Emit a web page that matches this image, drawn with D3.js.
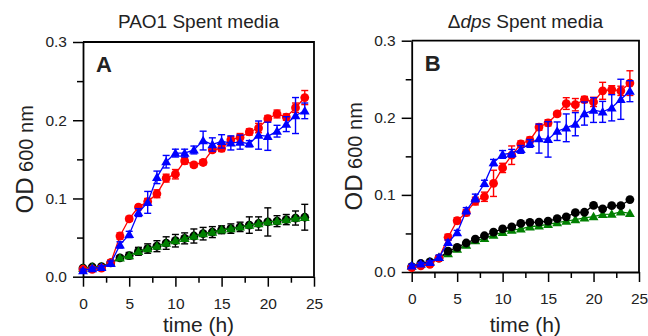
<!DOCTYPE html>
<html>
<head>
<meta charset="utf-8">
<script src="https://cdn.jsdelivr.net/npm/d3@7"></script>
<style>
  body { margin: 0; background: #fff; }
  svg text { font-family: "Liberation Sans", Arial, sans-serif; fill: #222; }
</style>
</head>
<body>
<svg id="chart" width="648" height="336"></svg>
<script>
// time points (h)
const hours = d3.range(0, 25);

const xTicks = [0, 5, 10, 15, 20, 25];
const yTicks = [0.0, 0.1, 0.2, 0.3];

// Panel A - PAO1 spent media
const redA = [0.0095, 0.0095, 0.011, 0.018, 0.052, 0.074, 0.089, 0.096, 0.106, 0.126, 0.131, 0.148, 0.143, 0.146, 0.162, 0.164, 0.175, 0.178, 0.185, 0.190, 0.202, 0.208, 0.204, 0.216, 0.229];
const redAErr = [0.002, 0.002, 0.002, 0.003, 0.004, 0.003, 0.003, 0.004, 0.005, 0.005, 0.006, 0.004, 0.003, 0.003, 0.003, 0.004, 0.004, 0.005, 0.004, 0.006, 0.004, 0.005, 0.004, 0.006, 0.009];
const blueA = [0.0077, 0.0105, 0.012, 0.017, 0.0406, 0.054, 0.082, 0.095, 0.127, 0.147, 0.158, 0.158, 0.162, 0.174, 0.169, 0.173, 0.171, 0.172, 0.170, 0.181, 0.1795, 0.186, 0.195, 0.206, 0.212];
const blueAErr = [0.002, 0.002, 0.002, 0.003, 0.004, 0.004, 0.005, 0.014, 0.008, 0.008, 0.005, 0.005, 0.005, 0.012, 0.0085, 0.0085, 0.009, 0.009, 0.004, 0.018, 0.018, 0.0075, 0.0095, 0.023, 0.01];
const blackA = [0.011, 0.0124, 0.013, 0.0176, 0.024, 0.027, 0.0325, 0.036, 0.039, 0.043, 0.046, 0.049, 0.052, 0.055, 0.057, 0.060, 0.0615, 0.0637, 0.066, 0.068, 0.070, 0.071, 0.073, 0.075, 0.076];
const blackAErr = [0.001, 0.002, 0.002, 0.003, 0.003, 0.004, 0.005, 0.006, 0.007, 0.008, 0.008, 0.007, 0.009, 0.008, 0.007, 0.005, 0.006, 0.006, 0.0105, 0.0085, 0.018, 0.007, 0.0065, 0.009, 0.0165];
const greenA = [0.011, 0.0124, 0.013, 0.0176, 0.024, 0.027, 0.0325, 0.036, 0.039, 0.043, 0.046, 0.049, 0.052, 0.055, 0.057, 0.060, 0.0615, 0.0637, 0.066, 0.068, 0.070, 0.071, 0.073, 0.075, 0.076];

// Panel B - dps spent media
const redB = [0.0056, 0.008, 0.010, 0.018, 0.045, 0.0665, 0.077, 0.092, 0.0976, 0.115, 0.135, 0.1515, 0.166, 0.171, 0.188, 0.1935, 0.205, 0.2185, 0.217, 0.2237, 0.2206, 0.235, 0.2366, 0.235, 0.245];
const redBErr = [0.002, 0.002, 0.002, 0.003, 0.004, 0.004, 0.004, 0.005, 0.006, 0.017, 0.006, 0.012, 0.004, 0.004, 0.004, 0.004, 0.003, 0.0076, 0.008, 0.004, 0.006, 0.011, 0.005, 0.006, 0.016];
const blueB = [0.008, 0.0104, 0.0125, 0.019, 0.0385, 0.051, 0.0795, 0.096, 0.115, 0.142, 0.1525, 0.154, 0.159, 0.1667, 0.173, 0.172, 0.1826, 0.187, 0.1917, 0.2055, 0.21, 0.2077, 0.213, 0.224, 0.2345];
const blueBErr = [0.002, 0.002, 0.002, 0.003, 0.003, 0.003, 0.004, 0.005, 0.004, 0.004, 0.005, 0.005, 0.005, 0.005, 0.0188, 0.023, 0.012, 0.018, 0.015, 0.015, 0.016, 0.0136, 0.017, 0.026, 0.0136];
const blackB = [0.007, 0.011, 0.013, 0.018, 0.027, 0.032, 0.0376, 0.0427, 0.047, 0.0518, 0.056, 0.0585, 0.063, 0.0644, 0.0648, 0.066, 0.0692, 0.0715, 0.077, 0.0775, 0.0865, 0.082, 0.086, 0.086, 0.094];
const greenB = [0.008, 0.0104, 0.0134, 0.019, 0.024, 0.0298, 0.035, 0.0406, 0.0436, 0.048, 0.0514, 0.0544, 0.056, 0.0587, 0.060, 0.0617, 0.064, 0.066, 0.068, 0.0703, 0.0717, 0.0747, 0.075, 0.078, 0.076];

const svg = d3.select('#chart');

// dibuja un panel completo
function drawPanel(p) {
  const x = d3.scaleLinear().domain([0, 25]).range([p.left, p.right]);
  const y = d3.scaleLinear().domain([0, 0.3]).range([p.bottom, p.top]);

  const g = svg.append('g');

  // minor ticks
  g.append('g')
    .attr('transform', 'translate(0,' + p.bottom + ')')
    .call(d3.axisBottom(x).tickValues(d3.range(2.5, 25, 5)).tickSize(6).tickSizeOuter(0).tickFormat(''))
    .call(a => a.select('.domain').remove());
  g.append('g')
    .attr('transform', 'translate(' + p.left + ',0)')
    .call(d3.axisLeft(y).tickValues([0.05, 0.15, 0.25]).tickSize(6).tickSizeOuter(0).tickFormat(''))
    .call(a => a.select('.domain').remove());

  // major axes
  const xa = g.append('g')
    .attr('transform', 'translate(0,' + p.bottom + ')')
    .call(d3.axisBottom(x).tickValues(xTicks).tickSize(10).tickSizeOuter(0).tickPadding(11));
  const ya = g.append('g')
    .attr('transform', 'translate(' + p.left + ',0)')
    .call(d3.axisLeft(y).tickValues(yTicks).tickSize(10).tickSizeOuter(0).tickPadding(6).tickFormat(d3.format('.1f')));
  [xa, ya].forEach(a => {
    a.selectAll('text').style('font-size', '15.5px').attr('fill', '#222');
    a.select('.domain').attr('stroke', '#000').attr('stroke-width', 1.8);
  });
  g.selectAll('.tick line').attr('stroke', '#000').attr('stroke-width', 1.5);

  // box
  g.append('path')
    .attr('d', 'M' + p.left + ',' + p.top + 'H' + p.right + 'V' + p.bottom)
    .attr('fill', 'none')
    .attr('stroke', '#000')
    .attr('stroke-width', 1.8);

  // series
  p.series.forEach(s => {
    const pts = hours.map((t, i) => ({ t: t, v: s.values[i], e: s.errors ? s.errors[i] : 0 }));

    if (s.errors) {
      const eb = g.append('g').attr('stroke', s.color).attr('stroke-width', 1.4);
      pts.forEach(d => {
        const y0 = y(d.v - d.e), y1 = y(d.v + d.e), cx = x(d.t);
        eb.append('line').attr('x1', cx).attr('x2', cx).attr('y1', y0).attr('y2', y1);
        eb.append('line').attr('x1', cx - 3.5).attr('x2', cx + 3.5).attr('y1', y0).attr('y2', y0);
        eb.append('line').attr('x1', cx - 3.5).attr('x2', cx + 3.5).attr('y1', y1).attr('y2', y1);
      });
    }

    g.append('path')
      .datum(pts)
      .attr('fill', 'none')
      .attr('stroke', s.color)
      .attr('stroke-width', 1.3)
      .attr('d', d3.line().x(d => x(d.t)).y(d => y(d.v)));

    if (s.shape === 'circle') {
      g.selectAll(null)
        .data(pts)
        .enter()
        .append('circle')
        .attr('cx', d => x(d.t))
        .attr('cy', d => y(d.v))
        .attr('r', 4.4)
        .attr('fill', s.color);
    } else {
      g.selectAll(null)
        .data(pts)
        .enter()
        .append('path')
        .attr('transform', d => 'translate(' + x(d.t) + ',' + (y(d.v) + 0.8) + ')')
        .attr('d', d3.symbol(d3.symbolTriangle, 42))
        .attr('fill', s.color);
    }
  });

  // titles
  const title = svg.append('text')
    .attr('x', (p.left + p.right) / 2)
    .attr('y', 28)
    .attr('text-anchor', 'middle')
    .style('font-size', '19px');
  p.title.forEach(t => title.append('tspan').style('font-style', t.italic ? 'italic' : 'normal').text(t.text));

  svg.append('text')
    .attr('x', p.left + 13)
    .attr('y', p.top + 30)
    .style('font-size', '22px')
    .style('font-weight', 'bold')
    .attr('fill', '#000')
    .text(p.letter);

  const yl = svg.append('text')
    .attr('transform', 'translate(' + (p.left - 50) + ',' + (p.top + p.bottom) / 2 + ')rotate(-90)')
    .attr('text-anchor', 'middle');
  yl.append('tspan').style('font-size', '24px').text('OD');
  yl.append('tspan').style('font-size', '20px').text(' 600 nm');

  svg.append('text')
    .attr('x', (p.left + p.right) / 2)
    .attr('y', 332)
    .attr('text-anchor', 'middle')
    .style('font-size', '21px')
    .text('time (h)');
}

drawPanel({
  left: 83, right: 314, top: 42, bottom: 276.7,
  letter: 'A',
  title: [{ text: 'PAO1 Spent media' }],
  series: [
    { values: blackA, errors: blackAErr, color: '#000', shape: 'circle' },
    { values: greenA, color: '#008000', shape: 'triangle' },
    { values: redA, errors: redAErr, color: '#ff0000', shape: 'circle' },
    { values: blueA, errors: blueAErr, color: '#0000ff', shape: 'triangle' }
  ]
});

drawPanel({
  left: 411.7, right: 639, top: 40.7, bottom: 272,
  letter: 'B',
  title: [{ text: 'Δ' }, { text: 'dps', italic: true }, { text: ' Spent media' }],
  series: [
    { values: greenB, color: '#008000', shape: 'triangle' },
    { values: blackB, color: '#000', shape: 'circle' },
    { values: redB, errors: redBErr, color: '#ff0000', shape: 'circle' },
    { values: blueB, errors: blueBErr, color: '#0000ff', shape: 'triangle' }
  ]
});
</script>
</body>
</html>
